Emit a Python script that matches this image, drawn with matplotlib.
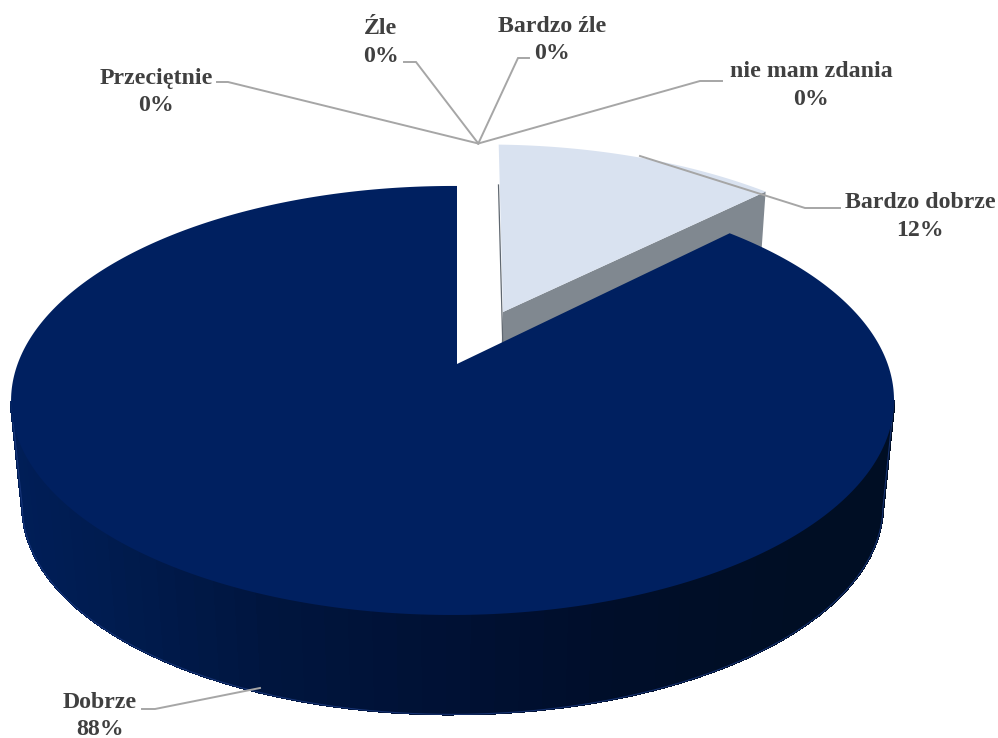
import numpy as np
import matplotlib

matplotlib.use("Agg")
import matplotlib.pyplot as plt
from matplotlib.collections import PolyCollection
from matplotlib.patches import Polygon

plt.rcParams["font.family"] = ["Liberation Serif", "DejaVu Serif"]

categories = ["Bardzo dobrze", "Dobrze", "Przeciętnie", "Źle", "Bardzo źle", "nie mam zdania"]
values = [12.49, 87.51, 0, 0, 0, 0]

# label centres, pixels
label_x = [920, 100, 156, 381, 552, 811]
label_y = [216.5, 716, 92, 42.5, 40, 85.5]

# leader lines, pixels
hub = (478.3, 143.5)
leaders = [
    [(640, 156), (805, 208), (840, 208)],
    [(260, 688), (155, 709), (142, 709)],
    [hub, (228, 82), (217, 82)],
    [hub, (416, 62), (404, 62)],
    [hub, (518, 58), (529, 58)],
    [hub, (700, 81), (722, 81)],
]

# x0, y0, A, B, k, m, s, t of the projected disc
big_top = (457, 364, 435, 208.3, 0.17, 0.01, 0, 0)
big_bottom = (457, 471, 424, 202, 0.17, 0.01, 0, 0)
small_top = (503, 312, 420, 195, 0.165, 0.0, -5, -5)
small_bottom = (499, 412, 415, 190, 0.165, 0.0, -5, -5)

wall_x = [10, 100, 270, 450, 600, 800, 900]
wall_r = [0, 0, 0, 0, 0, 0, 0]
wall_g = [30, 28, 21, 17, 14, 14, 14]
wall_b = [88, 80, 62, 52, 42, 36, 36]


def project(theta, geom):
    x0, y0, a, b, k, m, s, t = geom
    u, v = np.sin(theta), np.cos(theta)
    w = 1 + k * v + m * u
    return np.column_stack([x0 + (a * u + s * v) / w, y0 - (b * v + t * u) / w])


def face(start, stop, geom):
    theta = np.linspace(start, stop, 400)
    return np.vstack([project(theta, geom), [geom[0], geom[1]]])


fig = plt.figure(figsize=(9.98, 7.38), dpi=100)
ax = fig.add_axes([0, 0, 1, 1])
ax.set_xlim(0, 998)
ax.set_ylim(738, 0)
ax.axis("off")

edges = 2 * np.pi * np.cumsum([0] + values) / sum(values)
small_start, small_stop = edges[0], edges[1]
big_start, big_stop = edges[1], edges[2]

# small slice first, the big one covers part of its cut wall
tip = project(np.array([small_stop]), small_top)[0]
tip_low = project(np.array([small_stop]), small_bottom)[0]
ax.add_patch(Polygon([small_top[:2], tip, tip_low, small_bottom[:2]], fc="#808890", ec="none", zorder=1))
ax.plot([498.5, 502.7], [185, 342], color="#5f6770", lw=0.9, zorder=1.1)
ax.add_patch(Polygon(face(small_start, small_stop, small_top), fc="#D9E2F0", ec="none", zorder=1.2))

# big slice wall, front part only, one band per step
theta = np.radians(np.linspace(100, 260, 60))
upper = project(theta, big_top)
lower = project(theta, big_bottom)
quads = [[upper[i], upper[i + 1], lower[i + 1], lower[i]] for i in range(len(theta) - 1)]
mid = np.array([q[0][0] + q[2][0] for q in quads]) / 2
colors = np.column_stack(
    [np.interp(mid, wall_x, c) / 255 for c in (wall_r, wall_g, wall_b)]
)
ax.add_collection(
    PolyCollection(quads, facecolors=colors, edgecolors=colors, linewidths=1.0, antialiaseds=False, zorder=2)
)

# smooth outer edge of the wall
fine = np.radians(np.linspace(100, 260, 600))
up_line = project(fine, big_top)
low_line = project(fine, big_bottom)
outline = np.vstack([up_line[0], low_line, up_line[-1]])
ax.plot(outline[:, 0], outline[:, 1], color="#1c3a80", lw=0.8, alpha=0.8, zorder=2.1)
ax.add_patch(Polygon(face(big_start, big_stop, big_top), fc="#002060", ec="none", zorder=3))

for line in leaders:
    xs, ys = zip(*line)
    ax.plot(xs, ys, color="#A6A6A6", lw=1.4, solid_joinstyle="miter", zorder=4)

for name, val, x, y in zip(categories, values, label_x, label_y):
    ax.text(
        x, y, f"{name}\n{val:.0f}%", ha="center", va="center", fontsize=17.2,
        fontweight="bold", color="#404040", linespacing=1.4, zorder=5,
    )

fig.savefig("out.png", dpi=100)
